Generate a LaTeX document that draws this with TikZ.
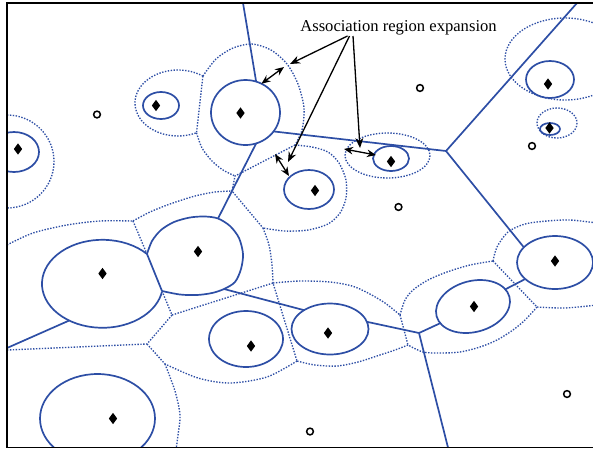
\documentclass[tikz,border=0pt]{standalone}
\usepackage{fontspec}
\setmainfont{Liberation Serif}
\usetikzlibrary{shapes.geometric,arrows.meta}
\definecolor{cellblue}{RGB}{45,78,165}
\begin{document}
\begin{tikzpicture}[x=1pt,y=-1pt,
  region/.style={draw=cellblue, line width=1.7pt, ellipse, inner sep=0pt, outer sep=0pt},
  border/.style={draw=cellblue, line width=1.7pt},
  expanded/.style={draw=cellblue, line width=1.35pt, dash pattern=on 1.4pt off 1.5pt},
  site/.style={diamond, fill=black, inner sep=0pt, minimum width=8.5pt, minimum height=11.5pt},
  user/.style={circle, draw=black, line width=1.5pt, inner sep=0pt, minimum size=6.8pt},
  pointer/.style={draw=black, line width=1.3pt, -{Stealth[length=10pt,width=8pt]}},
  span/.style={draw=black, line width=1.3pt, {Stealth[length=9pt,width=7.5pt]}-{Stealth[length=9pt,width=7.5pt]}},
]
\useasboundingbox (0,0) rectangle (593,451);

\begin{scope}
\clip (7,3) rectangle (597,447.5);

% expanded association regions (dotted)
\draw[expanded] (7,115) arc[start angle=-90,end angle=90,x radius=47,y radius=46.5];
\draw[expanded] (202.9,76.1) arc[start angle=-54.6,end angle=-295.5,x radius=43,y radius=33];
\draw[expanded] (202.9,76.1) -- (196.5,132.8);
\draw[expanded] plot[smooth] coordinates {(202.9,76.1) (216,59) (233,48) (252,44) (271,50) (287,64) (298,84) (304,108) (302,130) (295,145)};
\draw[expanded] plot[smooth] coordinates {(196.5,132.8) (202,148) (212,161) (223,170) (235,176)};
\draw[expanded] (295,145) -- (235,176) -- (232,191) -- (263,228);
\draw[expanded] plot[smooth] coordinates {(295,145) (312,147) (328,152) (339,163) (346,180) (346,198) (340,213) (328,224) (308,230) (285,231) (263,228)};
\draw[expanded] plot[smooth] coordinates {(133,221) (150,212) (170,204) (195,196) (215,192) (232,191)};
\draw[expanded] plot[smooth] coordinates {(263,228) (269,245) (272,265) (273,283)};
\draw[expanded] plot[smooth] coordinates {(7,245) (33,233) (67,225) (100,221) (133,221)};
\draw[expanded] (133,221) -- (147,254);
\draw[expanded] (162,291) -- (172,315) -- (147,344) -- (7,350);
\draw[expanded] (172,315) -- (273,283) -- (297,361);
\draw[expanded] plot[smooth] coordinates {(297,361) (267,377) (230,383) (198,378) (165,364)};
\draw[expanded] (147,344) -- (165,364);
\draw[expanded] plot[smooth] coordinates {(165,364) (175,391) (180,415) (178,435) (176,450)};
\draw[expanded] plot[smooth] coordinates {(273,283) (300,281) (330,282) (352,286) (368,293) (385,303) (400,315)};
\draw[expanded] (400,315) -- (408,345);
\draw[expanded] plot[smooth] coordinates {(408,345) (395,350) (380,355) (358,362) (337,366) (315,365) (297,361)};
\draw[expanded] plot[smooth] coordinates {(400,315) (405,300) (413,290) (428,280) (447,272) (470,265) (493,261)};
\draw[expanded] (493,261) -- (537,307);
\draw[expanded] plot[smooth] coordinates {(537,307) (525,320) (513,330) (497,340) (480,347) (460,352) (440,353) (423,352) (408,345)};
\draw[expanded] plot[smooth] coordinates {(493,261) (497,247) (508,232) (525,224) (547,221) (570,220) (597,223)};
\draw[expanded] plot[smooth] coordinates {(537,307) (565,308) (597,305)};
\draw[expanded] (387.5,155.5) ellipse[x radius=42.5,y radius=22.5];
\draw[expanded] (565,59) ellipse[x radius=60,y radius=41];
\draw[expanded] (557,123) ellipse[x radius=20,y radius=15];

% association regions (solid)
\node[region, minimum width=50pt, minimum height=40pt] (E1) at (14,152) {};
\node[region, minimum width=36pt, minimum height=27pt] (E2) at (161,105.5) {};
\node[region, minimum width=69pt, minimum height=65pt] (E3) at (245.5,112.5) {};
\node[region, minimum width=50pt, minimum height=39pt] (E4) at (309,189.5) {};
\node[region, minimum width=36pt, minimum height=25pt] (E5) at (391,158.5) {};
\node[region, minimum width=48pt, minimum height=37pt] (E6) at (550,79.5) {};
\node[region, minimum width=20pt, minimum height=12pt] (E7) at (550,129) {};
\node[region, minimum width=77pt, minimum height=51pt] (E10) at (330,329) {};
\node[region, minimum width=74pt, minimum height=56pt] (E11) at (246,339) {};
\node[region, minimum width=75.4pt, minimum height=51pt, rotate=15] (E12) at (473,306.5) {};
\node[region, minimum width=76pt, minimum height=53pt] (E13) at (555,262.5) {};
\node[region, minimum width=115pt, minimum height=89pt] (E14) at (97.5,418.5) {};

% the two touching regions on the left, split by a common border
\coordinate (v89a) at (147,254);
\coordinate (v89b) at (162,291);
\coordinate (e9top) at (218,218.5);
\coordinate (e9br) at (224,289);
\coordinate (e8bl) at (69,320.6);
\draw[border] (147,254) arc[start angle=-42.6,end angle=-349.3,x radius=60.5,y radius=44];
\draw[border] plot[smooth] coordinates {(162,291) (180,294.5) (197,295) (212,293) (224,289) (235,282) (241,269) (243,254) (239,238) (230,226) (218,218.5) (205,216.5) (190,217.5) (174,222) (161,230) (152,241) (147,254)};

% cell borders (solid)
\coordinate (V1) at (446,151);
\coordinate (V2) at (419,333);
\coordinate (T1) at (243,3);
\coordinate (T2) at (577,3);
\coordinate (B1) at (448,447.5);
\coordinate (L1) at (7,348);
\draw[border] (T1) -- (E3.71);
\draw[border] (E3.-34) -- (V1) -- (T2);
\draw[border] (V1) -- (E13.154);
\draw[border] (E3.-71) -- (e9top);
\draw[border] (v89a) -- (v89b);
\draw[border] (e9br) -- (E10.144);
\draw[border] (E10.11) -- (V2) -- (B1);
\draw[border] (V2) -- (E12.192);
\draw[border] (E12.13) -- (E13.209);
\draw[border] (e8bl) -- (L1);

% base stations
\foreach \n/\p in {s1/{(18,149)}, s2/{(156,105.5)}, s3/{(240.5,113)}, s4/{(315,190.5)}, s5/{(391,161.5)}, s6/{(548,84)}, s7/{(549.5,128)}, s8/{(102.5,273.5)}, s9/{(198,251.5)}, s10/{(328,333)}, s11/{(251,346)}, s12/{(474,306.5)}, s13/{(555,261)}, s14/{(113,418.5)}}
  \node[site] (\n) at \p {};

% users
\foreach \n/\p in {u1/{(97,114.5)}, u2/{(420,88)}, u3/{(532,146)}, u4/{(398.5,207)}, u5/{(567,394)}, u6/{(310,431.5)}}
  \node[user] (\n) at \p {};
\end{scope}

% frame
\draw[line width=1.7pt] (7,3) rectangle (597,447.5);

% annotation
\node[anchor=base, font=\fontsize{16.6}{20}\selectfont, inner sep=0pt] (label) at (398.5,31.7) {Association region expansion};
\coordinate (srcA) at (347.5,36);
\coordinate (srcB) at (349.5,36);
\coordinate (srcC) at (353,36);
\coordinate (tipA) at (290,64);
\coordinate (tipB) at (288,162);
\coordinate (tipC) at (360,148);
\draw[pointer] (srcA) -- (tipA);
\draw[pointer] (srcB) -- (tipB);
\draw[pointer] (srcC) -- (tipC);

% expansion spans
\coordinate (gapA) at (284,67);
\coordinate (gapB1) at (275,154);
\coordinate (gapB2) at (289,176);
\coordinate (gapC1) at (344,149);
\coordinate (gapC2) at (376,155);
\draw[span] (E3.61) -- (gapA);
\draw[span] (gapB1) -- (gapB2);
\draw[span] (gapC1) -- (gapC2);
\end{tikzpicture}
\end{document}
